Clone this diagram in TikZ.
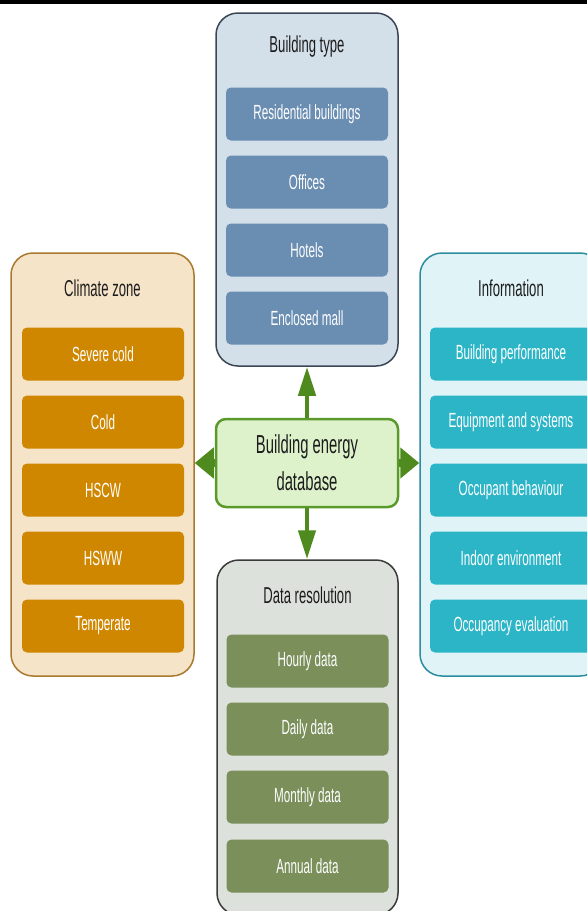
\documentclass[tikz,border=0pt]{standalone}
\usepackage{fontspec}
\setmainfont{Liberation Sans}[FakeStretch=0.57]
\usetikzlibrary{arrows.meta}
\definecolor{btfill}{HTML}{D4E0E9}
\definecolor{btline}{HTML}{3A4654}
\definecolor{btitem}{HTML}{6A8DB2}
\definecolor{czfill}{HTML}{F6E4C9}
\definecolor{czline}{HTML}{A8792E}
\definecolor{czitem}{HTML}{D08700}
\definecolor{inffill}{HTML}{E0F4F8}
\definecolor{infline}{HTML}{2A8C9E}
\definecolor{infitem}{HTML}{2CB5C7}
\definecolor{drfill}{HTML}{DDE1DB}
\definecolor{drline}{HTML}{3A3A3A}
\definecolor{dritem}{HTML}{7A8F5A}
\definecolor{cfill}{HTML}{DDF2CB}
\definecolor{cline}{HTML}{5A9A2A}
\definecolor{arrowgreen}{HTML}{4F8A1F}
\definecolor{titletext}{HTML}{1C1C1C}
\tikzset{
  container/.style={draw, line width=1.5pt, rounded corners=22pt, inner sep=0pt},
  item/.style={rounded corners=5pt, minimum width=162pt, minimum height=53pt, inner sep=0pt, text=white, font=\fontsize{20.5}{24}\selectfont},
  title/.style={text=titletext, font=\fontsize{23}{27}\selectfont, inner sep=0pt},
  centerbox/.style={draw=cline, fill=cfill, line width=2.5pt, rounded corners=10pt, minimum width=182pt, minimum height=88pt, align=center, text=titletext, font=\fontsize{26}{37}\selectfont},
  varrow/.style={draw=arrowgreen, line width=4.5pt, -{Triangle[width=17pt,length=29pt]}},
  harrow/.style={draw=arrowgreen, line width=8pt, -{Triangle[width=30pt,length=19pt]}},
}
\begin{document}
\begin{tikzpicture}[x=1pt,y=-1pt]
\useasboundingbox (0,0) rectangle (587,911);
\clip (0,0) rectangle (587,911);
\fill[black] (0,0) rectangle (587,4);
% containers
\node[container, draw=btline, fill=btfill, minimum width=182pt, minimum height=353pt] (bt) at (307,189.5) {};
\node[container, draw=czline, fill=czfill, minimum width=183pt, minimum height=423pt] (cz) at (102.5,464.5) {};
\node[container, draw=infline, fill=inffill, minimum width=182pt, minimum height=423pt] (inf) at (511,464.5) {};
\node[container, draw=drline, fill=drfill, minimum width=181pt, minimum height=355pt] (dr) at (307.5,737.5) {};
% titles
\node[title] (btt) at (307,47) {Building type};
\node[title] (czt) at (102.5,288) {Climate zone};
\node[title] (inft) at (511,288) {Information};
\node[title] (drt) at (307.5,595) {Data resolution};
% building type items
\node[item, fill=btitem] (bt1) at (307,114) {Residential buildings};
\node[item, fill=btitem] (bt2) at (307,182) {Offices};
\node[item, fill=btitem] (bt3) at (307,250) {Hotels};
\node[item, fill=btitem] (bt4) at (307,318) {Enclosed mall};
% climate zone items
\node[item, fill=czitem] (cz1) at (103,354) {Severe cold};
\node[item, fill=czitem] (cz2) at (103,422) {Cold};
\node[item, fill=czitem] (cz3) at (103,490) {HSCW};
\node[item, fill=czitem] (cz4) at (103,558) {HSWW};
\node[item, fill=czitem] (cz5) at (103,626) {Temperate};
% information items
\node[item, fill=infitem] (inf1) at (511,354) {Building performance};
\node[item, fill=infitem] (inf2) at (511,422) {Equipment and systems};
\node[item, fill=infitem] (inf3) at (511,490) {Occupant behaviour};
\node[item, fill=infitem] (inf4) at (511,558) {Indoor environment};
\node[item, fill=infitem] (inf5) at (511,626) {Occupancy evaluation};
% data resolution items
\node[item, fill=dritem] (dr1) at (307.5,661) {Hourly data};
\node[item, fill=dritem] (dr2) at (307.5,729) {Daily data};
\node[item, fill=dritem] (dr3) at (307.5,797) {Monthly data};
\node[item, fill=dritem] (dr4) at (307.5,866) {Annual data};
% center
\node[centerbox] (c) at (307,463) {Building energy\\database};
% arrows
\draw[varrow] (c.north) -- (bt.south);
\draw[varrow] (c.south) -- (c.south |- dr.north);
\draw[harrow] (c.west) -- (c.west -| cz.east);
\draw[harrow] (c.east) -- (c.east -| inf.west);
\end{tikzpicture}
\end{document}
